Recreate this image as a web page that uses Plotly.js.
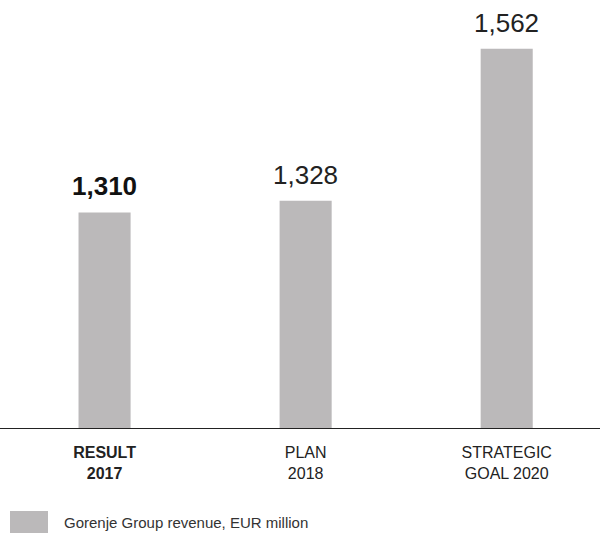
<!DOCTYPE html>
<html>
<head>
<meta charset="utf-8">
<script src="https://cdn.plot.ly/plotly-3.0.1.min.js"></script>
<style>html,body{margin:0;padding:0;background:#fff;}#chart{width:600px;height:533px;}</style>
</head>
<body>
<div id="chart"></div>
<script>
const categories = ["RESULT 2017", "PLAN 2018", "STRATEGIC GOAL 2020"];
const tickLabels = ["<b>RESULT<br>2017</b>", "PLAN<br>2018", "STRATEGIC<br>GOAL 2020"];
const revenue = [1310, 1328, 1562];
const valueLabels = ["<b>1,310</b>", "1,328", "1,562"];
const seriesName = "Gorenje Group revenue, EUR million";

const barColor = "#bbb9ba";
const font = "Liberation Sans, Arial, Helvetica, sans-serif";

const trace = {
  type: "bar",
  x: categories,
  y: revenue,
  name: seriesName,
  marker: { color: barColor },
  width: 0.259,
  hoverinfo: "x+y",
  showlegend: false
};

const annotations = categories.map((c, i) => ({
  x: c, y: revenue[i], xref: "x", yref: "y",
  text: valueLabels[i], showarrow: false,
  xanchor: "center", yanchor: "bottom", yshift: 9,
  font: { family: font, size: 26, color: i === 0 ? "#111" : "#222" }
}));
annotations.push({
  xref: "paper", yref: "paper", x: 62/600, y: (428-522)/428,
  xanchor: "left", yanchor: "middle", showarrow: false,
  text: seriesName, font: { family: font, size: 15, color: "#333" }
});

const layout = {
  width: 600, height: 533,
  margin: { l: 0, r: 0, t: 0, b: 105 },
  paper_bgcolor: "#fff", plot_bgcolor: "#fff",
  showlegend: false,
  xaxis: {
    type: "category",
    range: [-0.52, 2.464],
    tickvals: categories,
    ticktext: tickLabels,
    showline: true, linecolor: "#222", linewidth: 1,
    ticks: "", ticklabelstandoff: 10,
    showgrid: false, zeroline: false,
    tickfont: { family: font, size: 16, color: "#222" }
  },
  yaxis: {
    range: [978, 1637],
    visible: false, showgrid: false, zeroline: false
  },
  annotations: annotations,
  shapes: [{
    type: "rect", xref: "paper", yref: "paper",
    x0: 10/600, x1: 48/600, y0: (428-533)/428, y1: (428-511)/428,
    fillcolor: barColor, line: { width: 0 }
  }]
};

Plotly.newPlot("chart", [trace], layout, { displayModeBar: false, staticPlot: true });
</script>
</body>
</html>
